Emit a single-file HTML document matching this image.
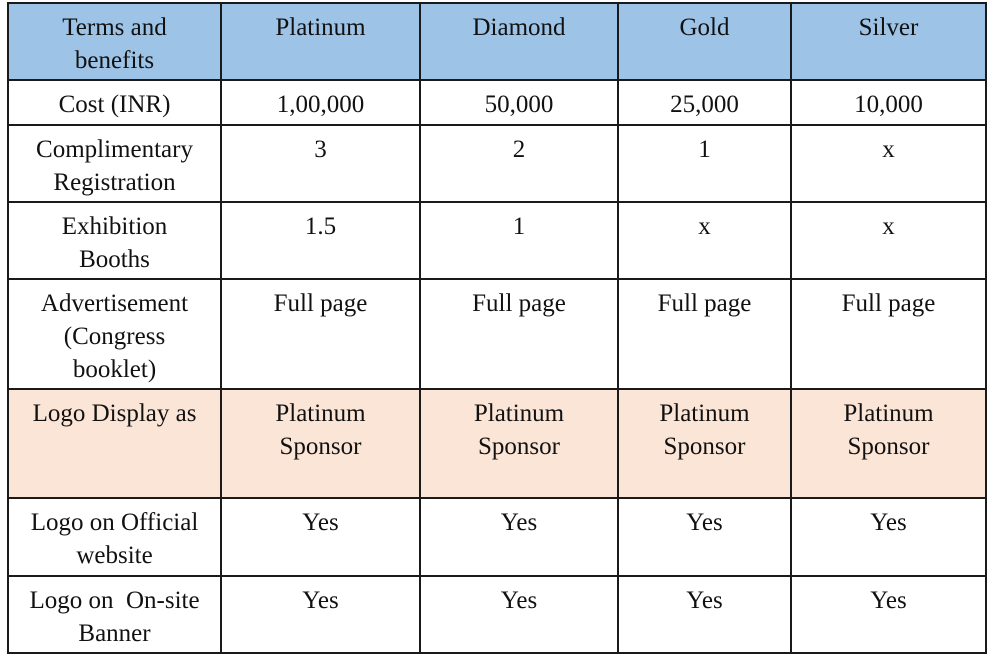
<!DOCTYPE html>
<html><head><meta charset="utf-8"><style>
body{margin:0;width:993px;height:663px;background:#fff;position:relative;overflow:hidden;}
.c{position:absolute;box-sizing:border-box;border:2px solid #1a1a1a;text-align:center;font-family:"Liberation Serif","Times New Roman",Times,serif;font-size:25px;line-height:33px;padding-top:7px;color:#111;}
</style></head><body>
<script>
const xs=[8,221,420,618,791,986],ys=[3,80,125,202,279,389,498,576,653];
const rows=[
["Terms and<br>benefits","Platinum","Diamond","Gold","Silver"],
["Cost (INR)","1,00,000","50,000","25,000","10,000"],
["Complimentary<br>Registration","3","2","1","x"],
["Exhibition<br>Booths","1.5","1","x","x"],
["Advertisement<br>(Congress<br>booklet)","Full page","Full page","Full page","Full page"],
["Logo Display as","Platinum<br>Sponsor","Platinum<br>Sponsor","Platinum<br>Sponsor","Platinum<br>Sponsor"],
["Logo on Official<br>website","Yes","Yes","Yes","Yes"],
["Logo on&nbsp; On-site<br>Banner","Yes","Yes","Yes","Yes"]];
let h="";
rows.forEach((r,i)=>r.forEach((t,j)=>{
 const bg=i==0?"#9dc3e6":i==5?"#fbe5d6":"#fff";
 h+=`<div class="c" style="left:${xs[j]-1}px;top:${ys[i]-1}px;width:${xs[j+1]-xs[j]+2}px;height:${ys[i+1]-ys[i]+2}px;background:${bg}">${t}</div>`;
}));
document.write(h);
</script>
</body></html>
